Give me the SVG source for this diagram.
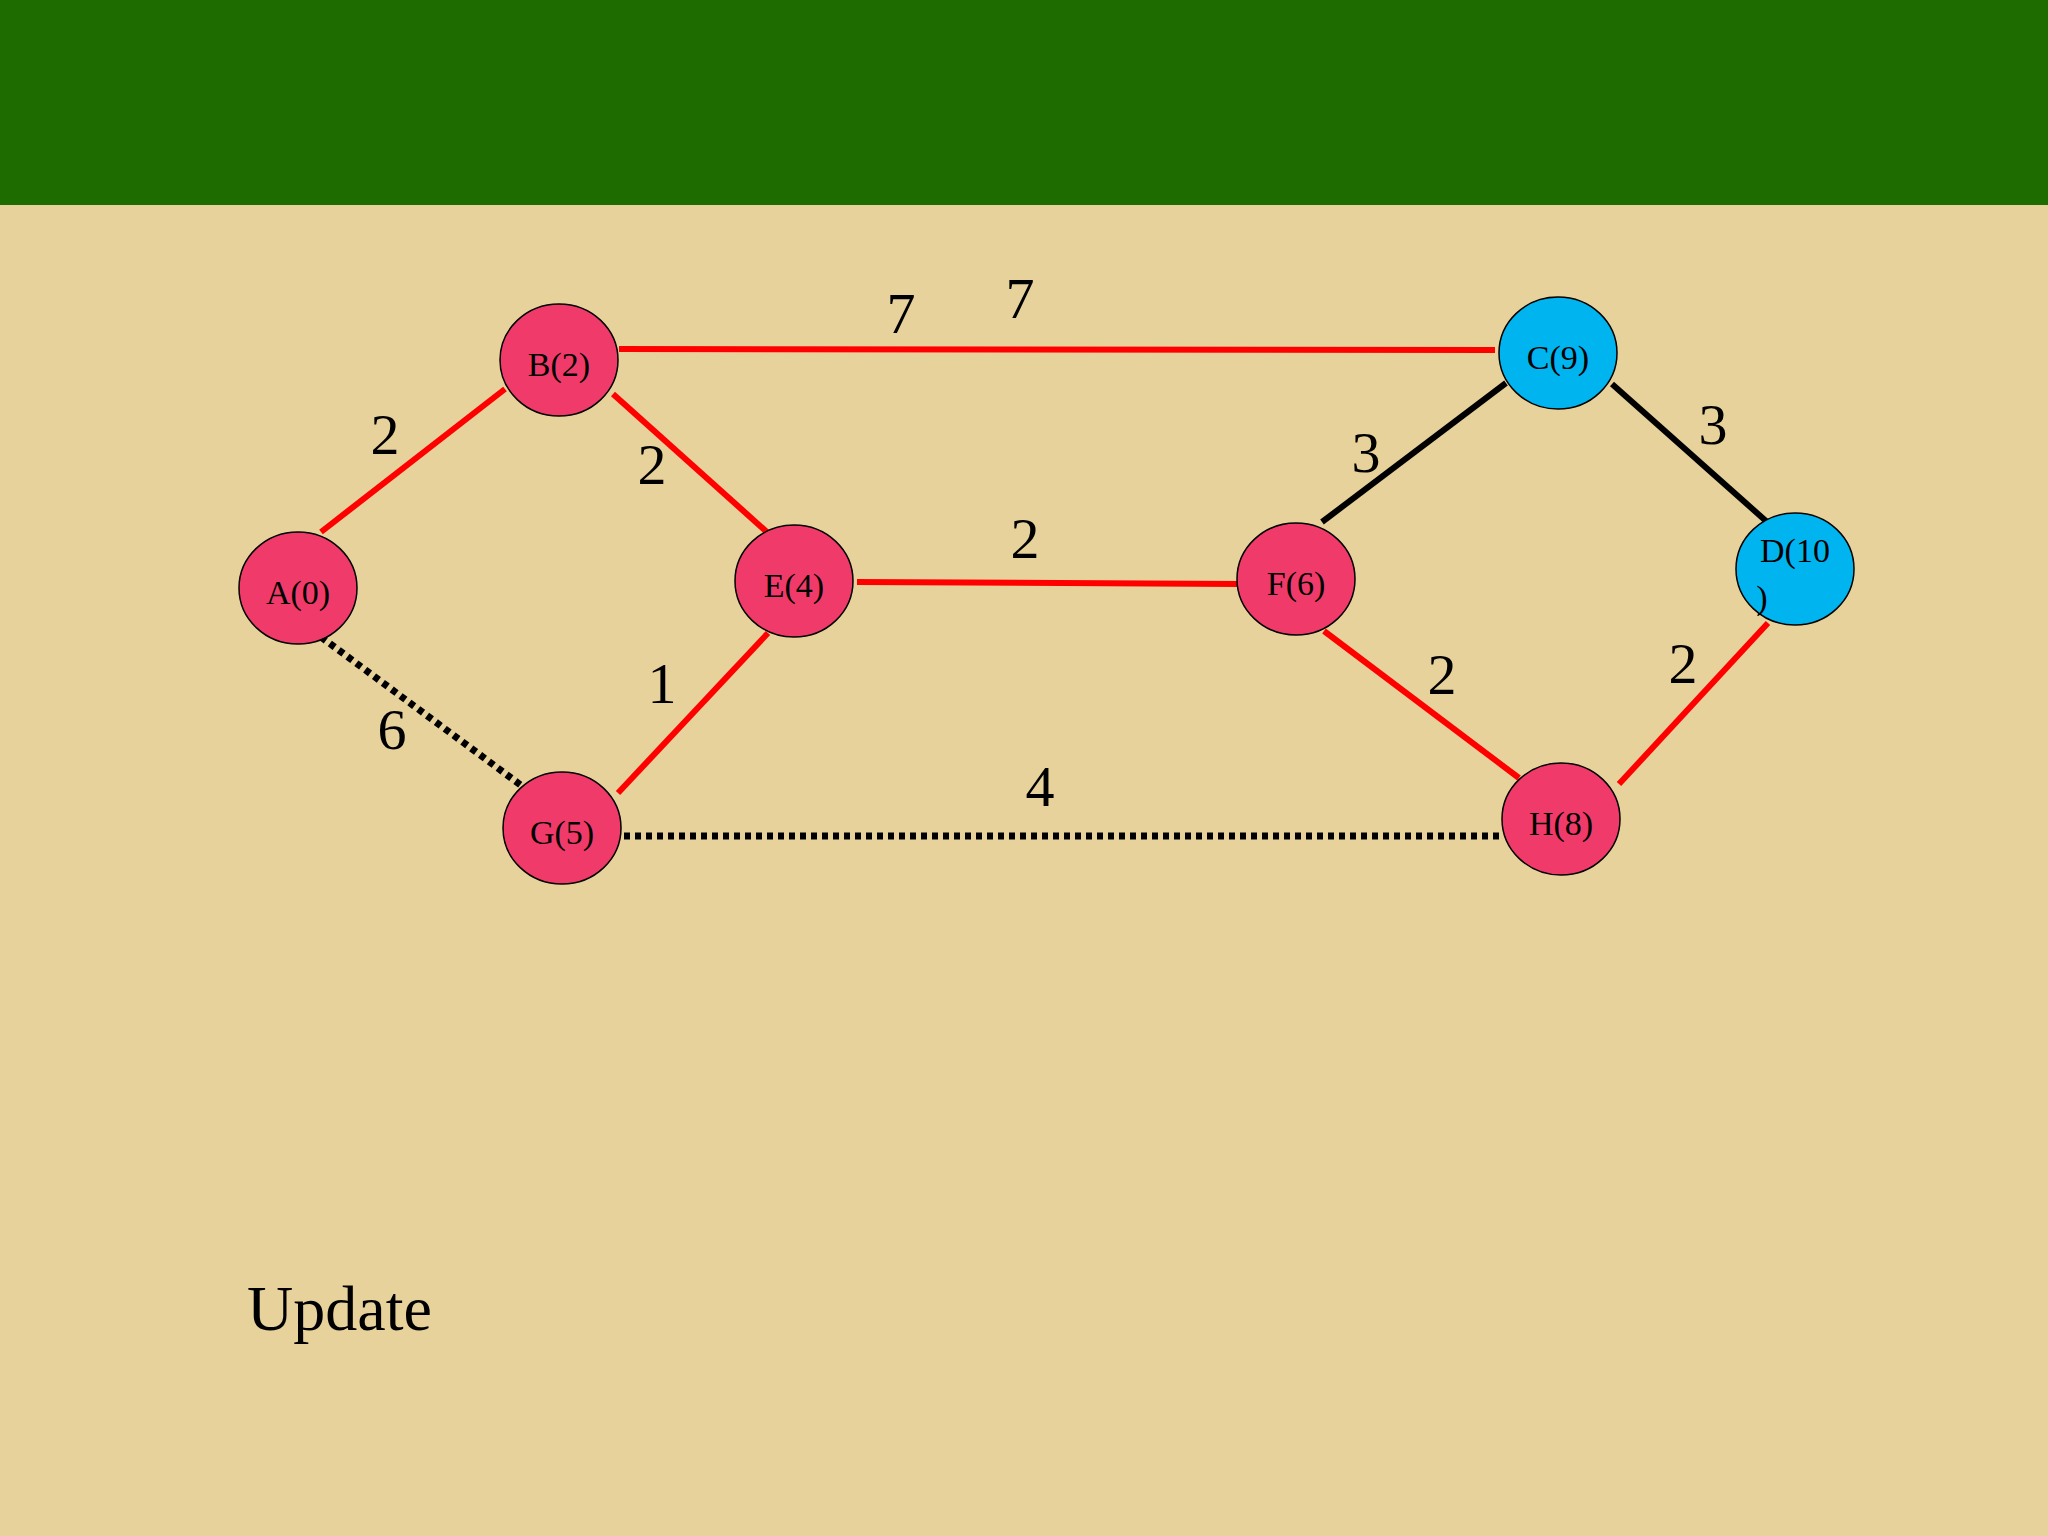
<svg xmlns="http://www.w3.org/2000/svg" width="2048" height="1536" viewBox="0 0 2048 1536">
<style>
.n{stroke:#000;stroke-width:1.5}
.p{fill:#F03B6A}.c{fill:#00B4F0}
.nt{font-family:"Liberation Serif",serif;font-size:34px;text-anchor:middle;dominant-baseline:central}
.w{font-family:"Liberation Serif",serif;font-size:58px;text-anchor:middle;dominant-baseline:central}
.r{stroke:#F00;stroke-width:6;fill:none}
.k{stroke:#000;stroke-width:6;fill:none}
.d{stroke:#000;stroke-width:7;stroke-dasharray:6 5;fill:none}
</style>
<rect width="2048" height="1536" fill="#E8D29C"/>
<rect width="2048" height="205" fill="#1E6B00"/>
<g id="connectors">
<line class="r" x1="321" y1="532" x2="505" y2="389"/>
<line class="r" x1="613" y1="394" x2="768" y2="533"/>
<line class="r" x1="619" y1="349" x2="1495" y2="350"/>
<line class="r" x1="857" y1="582" x2="1238" y2="584"/>
<line class="r" x1="768" y1="633" x2="618" y2="793"/>
<line class="d" x1="321" y1="637" x2="522" y2="786"/>
<line class="d" x1="624" y1="836" x2="1502" y2="836"/>
<line class="k" x1="1322" y1="522" x2="1506" y2="383"/>
<line class="k" x1="1612" y1="384" x2="1766" y2="521"/>
<line class="r" x1="1324" y1="631" x2="1519" y2="778"/>
<line class="r" x1="1619" y1="784" x2="1768" y2="623"/>
</g>
<g id="weights">
<text class="w" x="385" y="434">2</text>
<text class="w" x="652" y="464">2</text>
<text class="w" x="901" y="313">7</text>
<text class="w" x="1020" y="298">7</text>
<text class="w" x="1025" y="538">2</text>
<text class="w" x="1366" y="452">3</text>
<text class="w" x="1713" y="424">3</text>
<text class="w" x="662" y="683">1</text>
<text class="w" x="392" y="729">6</text>
<text class="w" x="1040" y="786">4</text>
<text class="w" x="1442" y="674">2</text>
<text class="w" x="1683" y="663">2</text>
</g>
<g id="A"><ellipse class="n p" cx="298" cy="588" rx="59" ry="56"/><text class="nt" x="298" y="592">A(0)</text></g>
<g id="B"><ellipse class="n p" cx="559" cy="360" rx="59" ry="56"/><text class="nt" x="559" y="364">B(2)</text></g>
<g id="E"><ellipse class="n p" cx="794" cy="581" rx="59" ry="56"/><text class="nt" x="794" y="585">E(4)</text></g>
<g id="G"><ellipse class="n p" cx="562" cy="828" rx="59" ry="56"/><text class="nt" x="562" y="832">G(5)</text></g>
<g id="F"><ellipse class="n p" cx="1296" cy="579" rx="59" ry="56"/><text class="nt" x="1296" y="583">F(6)</text></g>
<g id="C"><ellipse class="n c" cx="1558" cy="353" rx="59" ry="56"/><text class="nt" x="1558" y="357">C(9)</text></g>
<g id="D"><ellipse class="n c" cx="1795" cy="569" rx="59" ry="56"/><text class="nt" x="1795" y="550">D(10</text><text class="nt" x="1762" y="597">)</text></g>
<g id="H"><ellipse class="n p" cx="1561" cy="819" rx="59" ry="56"/><text class="nt" x="1561" y="823">H(8)</text></g>
<text x="247" y="1330" font-family="Liberation Serif,serif" font-size="64">Update</text>
</svg>
